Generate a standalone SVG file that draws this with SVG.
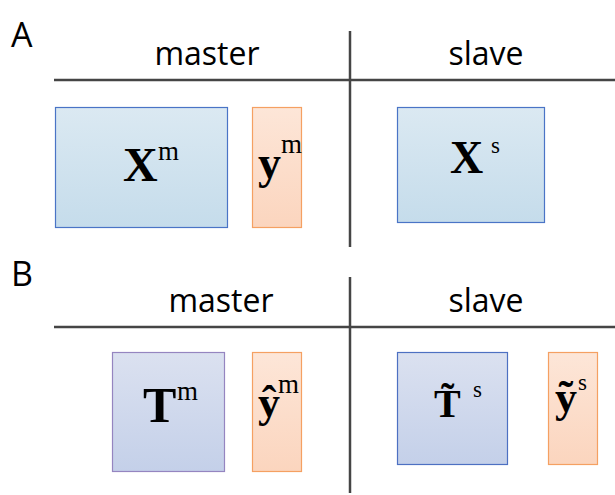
<svg xmlns="http://www.w3.org/2000/svg" width="615" height="495" viewBox="0 0 615 495">
<defs>
<linearGradient id="gBlue" x1="0" y1="0" x2="0" y2="1"><stop offset="0" stop-color="#dbe9f2"/><stop offset="1" stop-color="#c5dceb"/></linearGradient>
<linearGradient id="gOrange" x1="0" y1="0" x2="0" y2="1"><stop offset="0" stop-color="#fde6d8"/><stop offset="1" stop-color="#fbd5be"/></linearGradient>
<linearGradient id="gLav" x1="0" y1="0" x2="0" y2="1"><stop offset="0" stop-color="#dbe1f0"/><stop offset="1" stop-color="#c4d0e9"/></linearGradient>
<style>
.lbl{font-family:"Open Sans","Liberation Sans",sans-serif;font-size:32px;fill:#000}
.panel{font-size:34px}
.hdr{text-anchor:middle}
.rule{stroke:#454545;stroke-width:2.5;fill:none}
.blue{fill:url(#gBlue);stroke:#4a74c6;stroke-width:1.2}
.orange{fill:url(#gOrange);stroke:#f5a062;stroke-width:1.2}
.lav{fill:url(#gLav);stroke:#9585c0;stroke-width:1.2}
.lavb{fill:url(#gLav);stroke:#4d70c2;stroke-width:1.2}
.big{font-family:"Liberation Serif","Times New Roman",serif;font-weight:bold;fill:#000}
.sup{font-family:"Liberation Serif","Times New Roman",serif;fill:#000}
</style>
</defs>
<rect width="615" height="495" fill="#fff"/>
<g id="connectors">
<line class="rule" x1="54" y1="80" x2="615" y2="80"/>
<line class="rule" x1="350" y1="31" x2="350" y2="247"/>
<line class="rule" x1="54" y1="327" x2="615" y2="327"/>
<line class="rule" x1="350" y1="277" x2="350" y2="493"/>
</g>
<g id="panelA">
<text class="lbl panel" x="11" y="47">A</text>
<text class="lbl hdr" x="207" y="65">master</text>
<text class="lbl hdr" x="486" y="65">slave</text>
</g>
<g id="Xm">
<rect class="blue" x="55.5" y="107.5" width="172" height="120"/>
<text class="big" x="123" y="181" font-size="48">X</text>
<text class="sup" x="158" y="160" font-size="27">m</text>
</g>
<g id="ym">
<rect class="orange" x="252.5" y="107.5" width="49" height="120"/>
<text class="big" x="258" y="178" font-size="46">y</text>
<text class="sup" x="281" y="153" font-size="27">m</text>
</g>
<g id="Xs">
<rect class="blue" x="397.5" y="107.5" width="147" height="115"/>
<text class="big" x="450" y="173" font-size="46">X</text>
<text class="sup" x="491" y="153" font-size="23">s</text>
</g>
<g id="panelB">
<text class="lbl panel" x="11" y="286">B</text>
<text class="lbl hdr" x="221" y="312">master</text>
<text class="lbl hdr" x="486" y="312">slave</text>
</g>
<g id="Tm">
<rect class="lav" x="112.5" y="352.5" width="112" height="119"/>
<text class="big" x="143" y="422" font-size="50">T</text>
<text class="sup" x="177" y="400" font-size="27">m</text>
</g>
<g id="yhat_m">
<rect class="orange" x="252.5" y="352.5" width="49" height="119"/>
<text class="big" x="258" y="417" font-size="44">ŷ</text>
<text class="sup" x="278" y="393" font-size="27">m</text>
</g>
<g id="Ttilde_s">
<rect class="lavb" x="397.5" y="352.5" width="110" height="112"/>
<text class="big" x="434" y="417" font-size="40">T̃</text>
<text class="sup" x="473" y="397" font-size="23">s</text>
</g>
<g id="ytilde_s">
<rect class="orange" x="548.5" y="352.5" width="49" height="112"/>
<text class="big" x="555" y="412" font-size="44">ỹ</text>
<text class="sup" x="578" y="390" font-size="23">s</text>
</g>
</svg>
